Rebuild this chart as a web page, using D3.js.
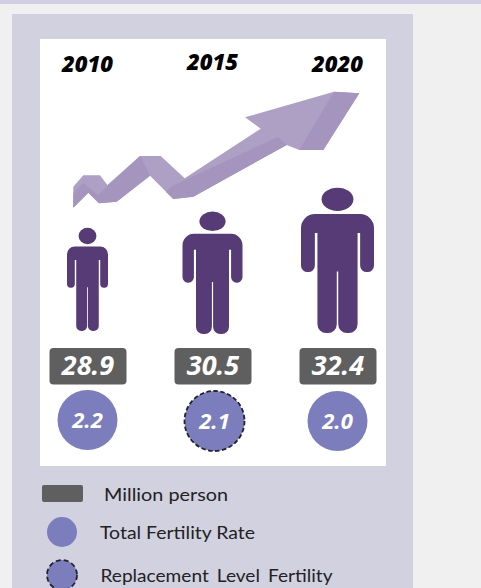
<!DOCTYPE html>
<html>
<head>
<meta charset="utf-8">
<script src="https://cdn.jsdelivr.net/npm/d3@7/dist/d3.min.js"></script>
<style>
  html, body { margin: 0; padding: 0; background: #f0f0f0; overflow: hidden; }
  svg { display: block; }
</style>
</head>
<body>
<svg id="chart" width="481" height="588"></svg>
<script>
// Population and fertility by census year
const years = ["2010", "2015", "2020"];
const population = [28.9, 30.5, 32.4];
const fertility = [2.2, 2.1, 2.0];
const replacementYear = "2015";
const legendLabels = ["Million person", "Total Fertility Rate", "Replacement Level Fertility"];

const colors = {
  page: "#f0f0f0", strip: "#d0cde4", panel: "#d1d1e0", plot: "#ffffff",
  person: "#563b77", badge: "#5f5f5f", circle: "#7b7dbd", dash: "#222230",
  arrow: "#ae9fc5", arrowDark: "#a594bd", arrowLight: "#b3a6c8"
};
const bodyFont = "Lato, 'Open Sans', sans-serif";
const numFont = "'Open Sans', Lato, sans-serif";

const svg = d3.select("#chart");

// Page background and panels
svg.append("rect").attr("width", 481).attr("height", 4).attr("fill", colors.strip);
svg.append("rect").attr("x", 12).attr("y", 14).attr("width", 401).attr("height", 574).attr("fill", colors.panel);
svg.append("rect").attr("x", 40).attr("y", 39).attr("width", 346).attr("height", 427).attr("fill", colors.plot);

// Column centres; figure sizes follow the population values
const xPos = d3.scalePoint().domain(years).range([88, 338]);
const figHeight = d3.scaleLinear().domain([28.9, 32.4]).range([103, 145]);
const figWidth = d3.scaleLinear().domain([28.9, 30.5, 32.4]).range([41, 60, 73]);

// Small per-column nudges in the hand-placed layout
const yearBaseline = { "2010": 72, "2015": 70, "2020": 72 };
const figFoot = { "2010": 331, "2015": 334, "2020": 333 };
const circleOffset = { "2010": [-0.5, 420], "2015": [1.5, 421], "2020": [-0.5, 421] };

// Decorative rising arrow
const arrowLine = d3.line();
const arrowShapes = [
  { fill: colors.arrow, pts: [[73.3,186.7],[83.3,175.3],[100,175.3],[107.3,185],[140,156],[160.7,156],[184.7,178.3],[260.7,128.7],[245,117.3],[334,91.7],[359.3,93.3],[323.3,150],[299.3,150],[286.7,145],[193.3,196.7],[173.3,199],[150,175.7],[116.7,201.7],[99,203.3],[88.3,192.7],[73.3,207.7]] },
  { fill: colors.arrowDark, pts: [[73.3,193],[83.3,183],[98,195],[140,156],[150,175.7],[116.7,201.7],[99,203.3],[88.3,192.7],[73.3,207.7]] },
  { fill: colors.arrowDark, pts: [[172,186],[278,137],[286.7,145],[193.3,196.7],[173.3,199],[166,192]] },
  { fill: colors.arrowDark, pts: [[334,91.7],[359.3,93.3],[323.3,150],[299.3,150]] }
];
svg.append("g").selectAll("path").data(arrowShapes).join("path")
  .attr("d", d => arrowLine(d.pts) + "Z")
  .attr("fill", d => d.fill);

// Standing figure, built in unit coordinates and scaled per column
function personPath(cx, foot, w, h) {
  const x = d3.scaleLinear().domain([0, 1]).range([cx - w / 2, cx + w / 2]);
  const y = d3.scaleLinear().domain([0, 1]).range([foot - h, foot]);
  const p = d3.path();
  const armR = 0.09 * w, legR = 0.12 * w, shoulder = 0.19 * w;
  const top = y(0.18), armGap = y(0.31), armEnd = y(0.58), legGap = y(0.575);

  p.moveTo(x(0) + shoulder, top);
  p.lineTo(x(1) - shoulder, top);
  p.arcTo(x(1), top, x(1), top + shoulder, shoulder);
  p.lineTo(x(1), armEnd - armR);
  p.arcTo(x(1), armEnd, x(1) - armR, armEnd, armR);
  p.arcTo(x(0.81), armEnd, x(0.81), armEnd - armR, armR);
  p.lineTo(x(0.81), armGap);
  p.lineTo(x(0.775), armGap);
  // right leg
  p.lineTo(x(0.775), foot - legR);
  p.arcTo(x(0.775), foot, x(0.775) - legR, foot, legR);
  p.arcTo(x(0.51), foot, x(0.51), foot - legR, legR);
  p.lineTo(x(0.51), legGap);
  p.lineTo(x(0.49), legGap);
  // left leg
  p.lineTo(x(0.49), foot - legR);
  p.arcTo(x(0.49), foot, x(0.49) - legR, foot, legR);
  p.arcTo(x(0.225), foot, x(0.225), foot - legR, legR);
  p.lineTo(x(0.225), armGap);
  p.lineTo(x(0.19), armGap);
  p.lineTo(x(0.19), armEnd - armR);
  p.arcTo(x(0.19), armEnd, x(0.19) - armR, armEnd, armR);
  p.arcTo(x(0), armEnd, x(0), armEnd - armR, armR);
  p.lineTo(x(0), top + shoulder);
  p.arcTo(x(0), top, x(0) + shoulder, top, shoulder);
  p.closePath();
  return p.toString();
}

const rows = years.map((year, i) => ({ year, pop: population[i], tfr: fertility[i] }));

const columns = svg.append("g").selectAll("g").data(rows).join("g");

columns.append("text")
  .attr("x", d => xPos(d.year) - 0.5)
  .attr("y", d => yearBaseline[d.year])
  .attr("text-anchor", "middle")
  .attr("font-family", numFont)
  .attr("font-weight", 800)
  .attr("font-style", "italic")
  .attr("font-size", 22)
  .attr("fill", "#000")
  .text(d => d.year);

columns.append("path")
  .attr("d", d => personPath(xPos(d.year) - 0.5, figFoot[d.year], figWidth(d.pop), figHeight(d.pop)))
  .attr("fill", colors.person);

columns.append("ellipse")
  .attr("cx", d => xPos(d.year) - 0.5)
  .attr("cy", d => figFoot[d.year] - figHeight(d.pop) * 0.922)
  .attr("rx", d => figWidth(d.pop) * 0.218)
  .attr("ry", d => figHeight(d.pop) * 0.08)
  .attr("fill", colors.person);

// Population badges
columns.append("rect")
  .attr("x", d => xPos(d.year) - 38.5)
  .attr("y", 348)
  .attr("width", 77)
  .attr("height", 36.5)
  .attr("rx", 4)
  .attr("fill", colors.badge);

columns.append("text")
  .attr("x", d => xPos(d.year))
  .attr("y", 375)
  .attr("text-anchor", "middle")
  .attr("font-family", numFont)
  .attr("font-weight", 700)
  .attr("font-style", "italic")
  .attr("font-size", 27)
  .attr("fill", "#fff")
  .text(d => d3.format(".1f")(d.pop));

// Fertility circles; the year at replacement level carries a dashed outline
columns.append("circle")
  .attr("cx", d => xPos(d.year) + circleOffset[d.year][0])
  .attr("cy", d => circleOffset[d.year][1])
  .attr("r", 30)
  .attr("fill", colors.circle)
  .attr("stroke", d => d.year === replacementYear ? colors.dash : "none")
  .attr("stroke-width", 1.8)
  .attr("stroke-dasharray", "4.5 2.5");

columns.append("text")
  .attr("x", d => xPos(d.year) + circleOffset[d.year][0])
  .attr("y", d => circleOffset[d.year][1] + 8)
  .attr("text-anchor", "middle")
  .attr("font-family", numFont)
  .attr("font-weight", 700)
  .attr("font-style", "italic")
  .attr("font-size", 22)
  .attr("fill", "#fff")
  .text(d => d3.format(".1f")(d.tfr));

// Legend
const legend = svg.append("g");
legend.append("rect")
  .attr("x", 42).attr("y", 485).attr("width", 41).attr("height", 17).attr("rx", 2)
  .attr("fill", colors.badge);
legend.append("circle").attr("cx", 62).attr("cy", 532).attr("r", 15).attr("fill", colors.circle);
legend.append("circle").attr("cx", 62).attr("cy", 575).attr("r", 15).attr("fill", colors.circle)
  .attr("stroke", colors.dash).attr("stroke-width", 1.8).attr("stroke-dasharray", "5 3");

const legendText = [
  { x: 104, y: 501, width: 124, spacing: 0 },
  { x: 100, y: 539, width: 155, spacing: 0 },
  { x: 100.5, y: 582, width: 232, spacing: 3 }
];
legend.selectAll("text").data(legendLabels).join("text")
  .attr("x", (d, i) => legendText[i].x)
  .attr("y", (d, i) => legendText[i].y)
  .attr("textLength", (d, i) => legendText[i].width)
  .attr("lengthAdjust", "spacingAndGlyphs")
  .attr("word-spacing", (d, i) => legendText[i].spacing)
  .attr("font-family", bodyFont)
  .attr("font-size", 18)
  .attr("fill", "#222")
  .text(d => d);
</script>
</body>
</html>
